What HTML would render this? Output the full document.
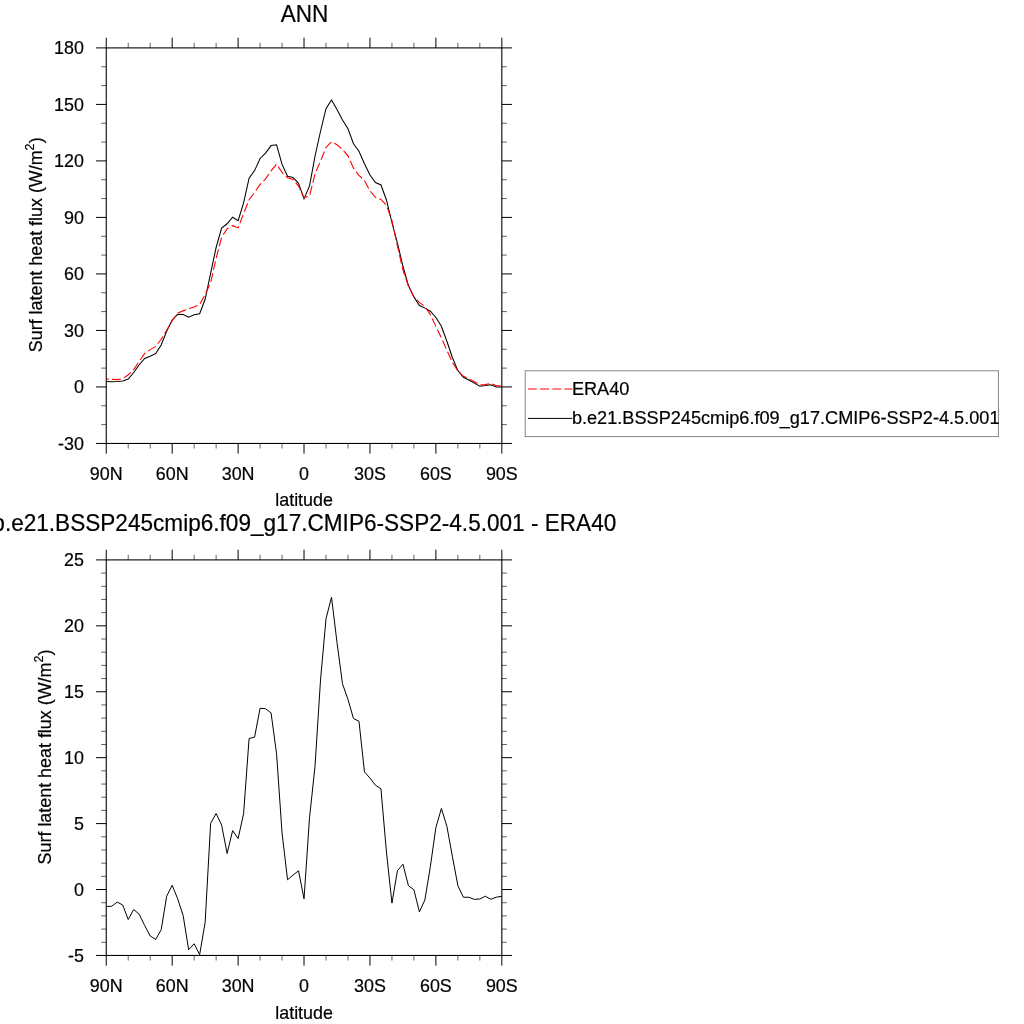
<!DOCTYPE html>
<html><head><meta charset="utf-8"><title>ANN</title>
<style>
html,body{margin:0;padding:0;background:#fff;}
body{width:1024px;height:1024px;overflow:hidden;}
svg{display:block;}
text{font-family:"Liberation Sans",Arial,Helvetica,sans-serif;fill:#000;stroke:#000;stroke-width:0.2px;}
.t{font-size:23.7px;}
.k{font-size:17.9px;}
.a{font-size:17.9px;}
.l{font-size:18.15px;}
</style></head><body>
<svg width="1024" height="1024" viewBox="0 0 1024 1024">
<rect width="1024" height="1024" fill="#fff"/>
<rect x="106.25" y="47.90" width="395.57" height="395.55" fill="none" stroke="#000" stroke-width="1.08"/>
<path d="M106.25 443.45v10.20M106.25 47.90v-10.20M172.18 443.45v10.20M172.18 47.90v-10.20M238.11 443.45v10.20M238.11 47.90v-10.20M304.03 443.45v10.20M304.03 47.90v-10.20M369.96 443.45v10.20M369.96 47.90v-10.20M435.89 443.45v10.20M435.89 47.90v-10.20M501.82 443.45v10.20M501.82 47.90v-10.20M106.25 443.45h-10.20M501.82 443.45h10.20M106.25 386.94h-10.20M501.82 386.94h10.20M106.25 330.44h-10.20M501.82 330.44h10.20M106.25 273.93h-10.20M501.82 273.93h10.20M106.25 217.42h-10.20M501.82 217.42h10.20M106.25 160.91h-10.20M501.82 160.91h10.20M106.25 104.41h-10.20M501.82 104.41h10.20M106.25 47.90h-10.20M501.82 47.90h10.20" fill="none" stroke="#000" stroke-width="1"/>
<path d="M128.23 443.45v5.10M128.23 47.90v-5.10M150.20 443.45v5.10M150.20 47.90v-5.10M194.15 443.45v5.10M194.15 47.90v-5.10M216.13 443.45v5.10M216.13 47.90v-5.10M260.08 443.45v5.10M260.08 47.90v-5.10M282.06 443.45v5.10M282.06 47.90v-5.10M326.01 443.45v5.10M326.01 47.90v-5.10M347.99 443.45v5.10M347.99 47.90v-5.10M391.94 443.45v5.10M391.94 47.90v-5.10M413.92 443.45v5.10M413.92 47.90v-5.10M457.87 443.45v5.10M457.87 47.90v-5.10M479.84 443.45v5.10M479.84 47.90v-5.10M106.25 424.61h-5.10M501.82 424.61h5.10M106.25 405.78h-5.10M501.82 405.78h5.10M106.25 368.11h-5.10M501.82 368.11h5.10M106.25 349.27h-5.10M501.82 349.27h5.10M106.25 311.60h-5.10M501.82 311.60h5.10M106.25 292.76h-5.10M501.82 292.76h5.10M106.25 255.09h-5.10M501.82 255.09h5.10M106.25 236.26h-5.10M501.82 236.26h5.10M106.25 198.59h-5.10M501.82 198.59h5.10M106.25 179.75h-5.10M501.82 179.75h5.10M106.25 142.08h-5.10M501.82 142.08h5.10M106.25 123.24h-5.10M501.82 123.24h5.10M106.25 85.57h-5.10M501.82 85.57h5.10M106.25 66.74h-5.10M501.82 66.74h5.10" fill="none" stroke="#000" stroke-width="0.62"/>
<text class="k" x="83.9" y="449.90" text-anchor="end">-30</text>
<text class="k" x="83.9" y="393.39" text-anchor="end">0</text>
<text class="k" x="83.9" y="336.89" text-anchor="end">30</text>
<text class="k" x="83.9" y="280.38" text-anchor="end">60</text>
<text class="k" x="83.9" y="223.87" text-anchor="end">90</text>
<text class="k" x="83.9" y="167.36" text-anchor="end">120</text>
<text class="k" x="83.9" y="110.86" text-anchor="end">150</text>
<text class="k" x="83.9" y="54.35" text-anchor="end">180</text>
<text class="k" x="106.25" y="479.5" text-anchor="middle">90N</text>
<text class="k" x="172.18" y="479.5" text-anchor="middle">60N</text>
<text class="k" x="238.11" y="479.5" text-anchor="middle">30N</text>
<text class="k" x="304.03" y="479.5" text-anchor="middle">0</text>
<text class="k" x="369.96" y="479.5" text-anchor="middle">30S</text>
<text class="k" x="435.89" y="479.5" text-anchor="middle">60S</text>
<text class="k" x="501.82" y="479.5" text-anchor="middle">90S</text>
<text class="a" x="304.1" y="506.2" text-anchor="middle">latitude</text>
<text class="t" transform="translate(304.5,21.6) scale(0.9536,1)" text-anchor="middle">ANN</text>
<text class="a" transform="translate(42.05,244.8) rotate(-90)" text-anchor="middle">Surf latent heat flux (W/m<tspan font-size="12.6" dy="-8.1">2</tspan><tspan dy="8.1">)</tspan></text>
<polyline points="106.25,381.40 111.74,381.70 117.24,381.40 122.73,380.90 128.23,379.00 133.72,372.50 139.21,364.75 144.71,358.50 150.20,356.25 155.70,353.50 161.19,345.00 166.68,331.25 172.18,320.00 177.67,314.40 183.17,314.60 188.66,317.25 194.15,314.75 199.65,313.75 205.14,299.30 210.64,273.10 216.13,247.50 221.62,228.10 227.12,223.75 232.61,217.25 238.11,220.60 243.60,202.80 249.09,178.10 254.59,170.60 260.08,158.50 265.58,153.10 271.07,145.60 276.56,144.75 282.06,164.40 287.55,176.25 293.05,177.50 298.54,183.40 304.03,198.90 309.53,185.90 315.02,156.25 320.52,131.25 326.01,108.75 331.51,100.00 337.00,109.40 342.49,120.00 347.99,128.75 353.48,143.75 358.98,151.25 364.47,163.75 369.96,175.00 375.46,182.50 380.95,185.00 386.45,200.00 391.94,222.50 397.43,243.10 402.93,266.25 408.42,285.60 413.92,296.90 419.41,305.60 424.90,308.10 430.40,311.25 435.89,317.50 441.39,326.25 446.88,341.25 452.37,357.50 457.87,370.60 463.36,377.25 468.86,380.00 474.35,383.10 479.84,386.25 485.34,385.60 490.83,384.75 496.33,386.90 501.82,386.90" fill="none" stroke="#000" stroke-width="1.05" stroke-linejoin="miter" stroke-miterlimit="10"/>
<polyline points="106.25,378.97 111.74,379.31 117.24,379.60 122.73,378.69 128.23,374.72 133.72,369.65 139.21,361.22 144.71,353.35 150.20,349.61 155.70,346.38 161.19,339.25 166.68,330.29 172.18,320.61 177.67,313.08 183.17,310.88 188.66,308.65 194.15,307.00 199.65,304.45 205.14,294.59 210.64,282.56 216.13,258.36 221.62,237.32 227.12,228.90 232.61,225.67 238.11,227.89 243.60,213.62 249.09,199.68 254.59,192.38 260.08,184.40 265.58,178.93 271.07,170.83 276.56,164.15 282.06,172.48 287.55,177.65 293.05,179.58 298.54,186.08 304.03,197.56 309.53,196.16 315.02,173.86 320.52,161.18 326.01,147.43 331.51,141.75 337.00,144.69 342.49,149.40 347.99,155.90 353.48,168.18 358.98,175.29 364.47,180.55 369.96,190.92 375.46,197.40 380.95,199.40 386.45,205.36 391.94,220.56 397.43,245.79 402.93,269.87 408.42,286.15 413.92,296.87 419.41,302.40 424.90,306.62 430.40,314.57 435.89,326.36 441.39,337.82 446.88,350.29 452.37,362.25 457.87,371.16 463.36,376.15 468.86,378.90 474.35,381.69 479.84,384.90 485.34,384.64 490.83,383.35 496.33,385.80 501.82,385.94" fill="none" stroke="#f00" stroke-width="1.1" stroke-dasharray="8.9 3.31" stroke-dashoffset="6.4"/>
<rect x="525.2" y="370.8" width="473.2" height="65.8" fill="#fff" stroke="#808080" stroke-width="0.95"/>
<path d="M527.9 389.0H572.3" stroke="#f00" stroke-width="1.15" stroke-dasharray="8.9 3.31" fill="none"/>
<path d="M527.9 418.4H572.3" stroke="#000" stroke-width="1" fill="none"/>
<text class="l" x="571.9" y="395.3">ERA40</text>
<text class="l" x="571.9" y="423.6">b.e21.BSSP245cmip6.f09_g17.CMIP6-SSP2-4.5.001</text>
<rect x="106.25" y="559.90" width="395.57" height="395.55" fill="none" stroke="#000" stroke-width="1.08"/>
<path d="M106.25 955.45v10.20M106.25 559.90v-10.20M172.18 955.45v10.20M172.18 559.90v-10.20M238.11 955.45v10.20M238.11 559.90v-10.20M304.03 955.45v10.20M304.03 559.90v-10.20M369.96 955.45v10.20M369.96 559.90v-10.20M435.89 955.45v10.20M435.89 559.90v-10.20M501.82 955.45v10.20M501.82 559.90v-10.20M106.25 955.45h-10.20M501.82 955.45h10.20M106.25 889.53h-10.20M501.82 889.53h10.20M106.25 823.60h-10.20M501.82 823.60h10.20M106.25 757.67h-10.20M501.82 757.67h10.20M106.25 691.75h-10.20M501.82 691.75h10.20M106.25 625.83h-10.20M501.82 625.83h10.20M106.25 559.90h-10.20M501.82 559.90h10.20" fill="none" stroke="#000" stroke-width="1"/>
<path d="M128.23 955.45v5.10M128.23 559.90v-5.10M150.20 955.45v5.10M150.20 559.90v-5.10M194.15 955.45v5.10M194.15 559.90v-5.10M216.13 955.45v5.10M216.13 559.90v-5.10M260.08 955.45v5.10M260.08 559.90v-5.10M282.06 955.45v5.10M282.06 559.90v-5.10M326.01 955.45v5.10M326.01 559.90v-5.10M347.99 955.45v5.10M347.99 559.90v-5.10M391.94 955.45v5.10M391.94 559.90v-5.10M413.92 955.45v5.10M413.92 559.90v-5.10M457.87 955.45v5.10M457.87 559.90v-5.10M479.84 955.45v5.10M479.84 559.90v-5.10M106.25 942.27h-5.10M501.82 942.27h5.10M106.25 929.08h-5.10M501.82 929.08h5.10M106.25 915.89h-5.10M501.82 915.89h5.10M106.25 902.71h-5.10M501.82 902.71h5.10M106.25 876.34h-5.10M501.82 876.34h5.10M106.25 863.15h-5.10M501.82 863.15h5.10M106.25 849.97h-5.10M501.82 849.97h5.10M106.25 836.79h-5.10M501.82 836.79h5.10M106.25 810.41h-5.10M501.82 810.41h5.10M106.25 797.23h-5.10M501.82 797.23h5.10M106.25 784.05h-5.10M501.82 784.05h5.10M106.25 770.86h-5.10M501.82 770.86h5.10M106.25 744.49h-5.10M501.82 744.49h5.10M106.25 731.31h-5.10M501.82 731.31h5.10M106.25 718.12h-5.10M501.82 718.12h5.10M106.25 704.93h-5.10M501.82 704.93h5.10M106.25 678.57h-5.10M501.82 678.57h5.10M106.25 665.38h-5.10M501.82 665.38h5.10M106.25 652.19h-5.10M501.82 652.19h5.10M106.25 639.01h-5.10M501.82 639.01h5.10M106.25 612.64h-5.10M501.82 612.64h5.10M106.25 599.45h-5.10M501.82 599.45h5.10M106.25 586.27h-5.10M501.82 586.27h5.10M106.25 573.09h-5.10M501.82 573.09h5.10" fill="none" stroke="#000" stroke-width="0.62"/>
<text class="k" x="83.9" y="961.90" text-anchor="end">-5</text>
<text class="k" x="83.9" y="895.98" text-anchor="end">0</text>
<text class="k" x="83.9" y="830.05" text-anchor="end">5</text>
<text class="k" x="83.9" y="764.12" text-anchor="end">10</text>
<text class="k" x="83.9" y="698.20" text-anchor="end">15</text>
<text class="k" x="83.9" y="632.28" text-anchor="end">20</text>
<text class="k" x="83.9" y="566.35" text-anchor="end">25</text>
<text class="k" x="106.25" y="991.6" text-anchor="middle">90N</text>
<text class="k" x="172.18" y="991.6" text-anchor="middle">60N</text>
<text class="k" x="238.11" y="991.6" text-anchor="middle">30N</text>
<text class="k" x="304.03" y="991.6" text-anchor="middle">0</text>
<text class="k" x="369.96" y="991.6" text-anchor="middle">30S</text>
<text class="k" x="435.89" y="991.6" text-anchor="middle">60S</text>
<text class="k" x="501.82" y="991.6" text-anchor="middle">90S</text>
<text class="a" x="304.1" y="1018.7" text-anchor="middle">latitude</text>
<text class="t" transform="translate(304.3,530.9) scale(0.9536,1)" text-anchor="middle">b.e21.BSSP245cmip6.f09_g17.CMIP6-SSP2-4.5.001 - ERA40</text>
<text class="a" transform="translate(51.0,757.0) rotate(-90)" text-anchor="middle">Surf latent heat flux (W/m<tspan font-size="12.6" dy="-8.1">2</tspan><tspan dy="8.1">)</tspan></text>
<polyline points="106.25,906.50 111.74,906.25 117.24,902.10 122.73,905.00 128.23,919.50 133.72,909.50 139.21,914.25 144.71,925.60 150.20,936.00 155.70,939.40 161.19,929.75 166.68,896.25 172.18,885.25 177.67,898.75 183.17,915.60 188.66,949.75 194.15,943.75 199.65,954.60 205.14,922.50 210.64,823.30 216.13,813.50 221.62,825.00 227.12,853.50 232.61,830.60 238.11,838.50 243.60,813.75 249.09,738.50 254.59,737.10 260.08,708.25 265.58,708.75 271.07,712.90 276.56,753.75 282.06,833.00 287.55,879.75 293.05,875.00 298.54,870.80 304.03,898.90 309.53,817.70 315.02,766.25 320.52,680.00 326.01,618.75 331.51,597.25 337.00,642.50 342.49,683.75 347.99,699.50 353.48,718.50 358.98,721.25 364.47,771.90 369.96,778.10 375.46,785.25 380.95,788.75 386.45,852.00 391.94,903.10 397.43,870.70 402.93,864.20 408.42,885.70 413.92,889.75 419.41,911.90 424.90,899.90 430.40,866.25 435.89,827.50 441.39,808.50 446.88,826.25 452.37,856.25 457.87,885.60 463.36,897.25 468.86,897.25 474.35,899.40 479.84,899.00 485.34,896.25 490.83,899.30 496.33,897.20 501.82,896.25" fill="none" stroke="#000" stroke-width="1" stroke-linejoin="miter" stroke-miterlimit="10"/>
</svg>
</body></html>
